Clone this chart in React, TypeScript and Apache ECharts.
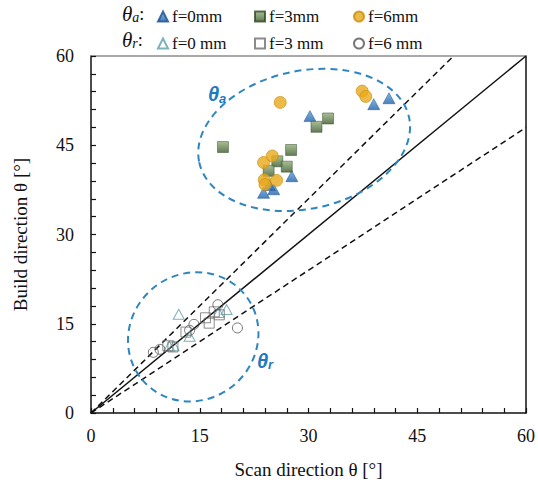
import React, { useEffect, useRef } from "react";
import * as echarts from "echarts";

// Advancing (θa) contact angles, build vs scan direction, per focal offset
const thetaA_f0 = [[30.2, 49.9], [39.0, 51.9], [41.1, 52.9], [27.7, 39.8], [23.8, 37.0], [25.2, 37.6], [24.6, 38.3]];
const thetaA_f3 = [[18.2, 44.7], [32.7, 49.5], [31.1, 48.1], [27.6, 44.2], [25.7, 42.3], [27.0, 41.4], [24.5, 40.7]];
const thetaA_f6 = [[26.1, 52.2], [37.4, 54.1], [37.9, 53.2], [23.8, 42.1], [25.0, 43.2], [23.9, 39.2], [24.0, 38.4], [25.6, 39.1]];

// Receding (θr) contact angles
const thetaR_f0 = [[12.1, 16.6], [18.7, 17.4], [13.6, 12.9], [10.8, 11.2], [11.4, 11.3], [17.6, 16.9]];
const thetaR_f3 = [[13.1, 13.6], [15.8, 16.0], [16.3, 15.1], [17.0, 17.0], [17.7, 16.5], [10.6, 11.3], [11.3, 11.1]];
const thetaR_f6 = [[8.6, 10.2], [9.5, 10.7], [14.2, 14.9], [13.6, 13.9], [17.5, 18.2], [20.2, 14.3]];

// Reference lines: isotropy and ±20 % anisotropy bounds
const lineEqual = [[0, 0], [60, 60]];
const lineUpper = [[0, 0], [50, 60]];
const lineLower = [[0, 0], [60, 48]];

// Group outlines: [cx, cy, rx, ry, rotation°, labelX, labelY]
const groupOutlines = [
  [29.4, 45.9, 14.8, 11.6, 12, 17.4, 53.6],
  [14.1, 12.8, 9.2, 10.6, 40, 24.0, 8.8],
];
const groupLabels = ["a", "r"];

// Legend rows
const advancingNames = ["f=0mm", "f=3mm", "f=6mm"];
const recedingNames = ["f=0 mm", "f=3 mm", "f=6 mm"];

const axisTicks = { min: 0, max: 60, step: 3, labelEvery: 15 };

const SERIF = "Liberation Serif";
const SANS = "Liberation Sans";

export default function App() {
  const ref = useRef<HTMLDivElement>(null);

  useEffect(() => {
    if (!ref.current) return;
    const chart = echarts.init(ref.current, null, { renderer: "svg" });

    const grad = (top: string, bottom: string) =>
      new echarts.graphic.LinearGradient(0, 0, 0, 1, [
        { offset: 0, color: top },
        { offset: 1, color: bottom },
      ]);

    const tickAxis = (name: string, nameGap: number, margin: number) => ({
      type: "value",
      min: axisTicks.min,
      max: axisTicks.max,
      interval: axisTicks.step,
      name,
      nameLocation: "middle",
      nameGap,
      nameTextStyle: { fontFamily: SERIF, fontSize: 19, color: "#111" },
      axisLine: { show: true, onZero: false, lineStyle: { color: "#111", width: 1.5 } },
      axisTick: { show: true, inside: true, length: 5, lineStyle: { color: "#111", width: 1.2 } },
      axisLabel: {
        margin,
        fontFamily: SERIF,
        fontSize: 18,
        color: "#111",
        formatter: (v: number) => (v % axisTicks.labelEvery === 0 ? String(v) : ""),
      },
      splitLine: { show: false },
    });

    const frameAxis = (position: string, color: string) => ({
      type: "value",
      position,
      min: axisTicks.min,
      max: axisTicks.max,
      axisLine: { show: true, onZero: false, lineStyle: { color, width: 1.5 } },
      axisTick: { show: false },
      axisLabel: { show: false },
      splitLine: { show: false },
    });

    const refLine = (data: number[][], dashed: boolean) => ({
      type: "line",
      data,
      xAxisIndex: 0,
      yAxisIndex: 0,
      symbol: "none",
      silent: true,
      lineStyle: { color: "#111", width: 1.5, type: dashed ? [6, 4] : "solid" },
      z: 1,
    });

    const legendLefts = [157, 254, 353];
    const legendItem = (name: string, i: number, top: number) => ({
      data: [name],
      left: legendLefts[i],
      top,
      itemWidth: 10,
      itemHeight: 10,
      itemGap: 0,
      padding: 0,
      selectedMode: false,
      textStyle: { fontFamily: SERIF, fontSize: 17, color: "#111", padding: [0, 0, 0, -1] },
    });

    const thetaTag = (sub: string, top: number) => ({
      type: "text",
      left: 122,
      top,
      style: {
        text: `{t|θ}{s|${sub}}{c|:}`,
        rich: {
          t: { fontFamily: SERIF, fontStyle: "italic", fontSize: 21, fill: "#111" },
          s: { fontFamily: SERIF, fontStyle: "italic", fontSize: 14, fill: "#111", verticalAlign: "bottom", padding: [8, 0, 0, 0] },
          c: { fontFamily: SERIF, fontSize: 18, fill: "#111" },
        },
      },
    });

    chart.setOption({
      animation: false,
      backgroundColor: "#fff",
      textStyle: { fontFamily: SERIF },
      grid: { left: 91, right: 10, top: 56, bottom: 66 },
      xAxis: [tickAxis("Scan direction θ [°]", 47, 14), frameAxis("top", "#8c8c8c")],
      yAxis: [tickAxis("Build direction θ [°]", 61, 17), frameAxis("right", "#111")],
      legend: [
        ...advancingNames.map((n, i) => legendItem(n, i, 8)),
        ...recedingNames.map((n, i) => legendItem(n, i, 35)),
      ],
      graphic: [thetaTag("a", 3), thetaTag("r", 29)],
      series: [
        refLine(lineEqual, false),
        refLine(lineUpper, true),
        refLine(lineLower, true),
        {
          type: "custom",
          silent: true,
          z: 2,
          data: groupOutlines,
          renderItem: (params: any, api: any) => {
            const c = api.coord([api.value(0), api.value(1)]);
            const sz = api.size([api.value(2), api.value(3)]);
            const a = sz[0];
            const b = sz[1];
            const rot = (api.value(4) * Math.PI) / 180;
            const lp = api.coord([api.value(5), api.value(6)]);
            return {
              type: "group",
              children: [
                {
                  type: "path",
                  x: c[0],
                  y: c[1],
                  rotation: rot,
                  shape: {
                    pathData: `M ${-a} 0 A ${a} ${b} 0 1 0 ${a} 0 A ${a} ${b} 0 1 0 ${-a} 0 Z`,
                  },
                  style: { fill: "none", stroke: "#2e86c1", lineWidth: 2, lineDash: [7, 5] },
                },
                {
                  type: "text",
                  x: lp[0],
                  y: lp[1],
                  style: {
                    text: `{t|θ}{s|${groupLabels[params.dataIndex]}}`,
                    align: "center",
                    verticalAlign: "middle",
                    fill: "#1f78c1",
                    rich: {
                      t: { fontFamily: SANS, fontStyle: "italic", fontWeight: "bold", fontSize: 20, fill: "#1f78c1" },
                      s: { fontFamily: SANS, fontStyle: "italic", fontWeight: "bold", fontSize: 13, fill: "#1f78c1", verticalAlign: "bottom", padding: [8, 0, 0, 0] },
                    },
                  },
                },
              ],
            };
          },
        },
        {
          name: advancingNames[0],
          type: "scatter",
          data: thetaA_f0,
          symbol: "triangle",
          symbolSize: [12, 11],
          itemStyle: { color: grad("#5ba3e6", "#1f5fa6"), borderColor: "#1d4f8a", borderWidth: 0.6 },
          z: 3,
        },
        {
          name: advancingNames[1],
          type: "scatter",
          data: thetaA_f3,
          symbol: "rect",
          symbolSize: 11,
          itemStyle: { color: grad("#93ad7c", "#3b5a2a"), borderColor: "#2f4a22", borderWidth: 0.6 },
          z: 3,
        },
        {
          name: advancingNames[2],
          type: "scatter",
          data: thetaA_f6,
          symbol: "circle",
          symbolSize: 12,
          itemStyle: { color: "#e8a91a", borderColor: "#c88d0c", borderWidth: 0.8 },
          z: 3,
        },
        {
          name: recedingNames[0],
          type: "scatter",
          data: thetaR_f0,
          symbol: "triangle",
          symbolSize: [11, 10],
          itemStyle: { color: "rgba(255,255,255,0)", borderColor: "#5e9fa8", borderWidth: 1 },
          z: 3,
        },
        {
          name: recedingNames[1],
          type: "scatter",
          data: thetaR_f3,
          symbol: "rect",
          symbolSize: 10,
          itemStyle: { color: "rgba(255,255,255,0)", borderColor: "#6e6e6e", borderWidth: 1 },
          z: 3,
        },
        {
          name: recedingNames[2],
          type: "scatter",
          data: thetaR_f6,
          symbol: "circle",
          symbolSize: 10,
          itemStyle: { color: "rgba(255,255,255,0)", borderColor: "#555", borderWidth: 1 },
          z: 3,
        },
      ],
    });

    return () => chart.dispose();
  }, []);

  return (
    <div
      ref={ref}
      style={{ position: "fixed", left: 0, top: 0, width: 538, height: 484, background: "#fff" }}
    />
  );
}
